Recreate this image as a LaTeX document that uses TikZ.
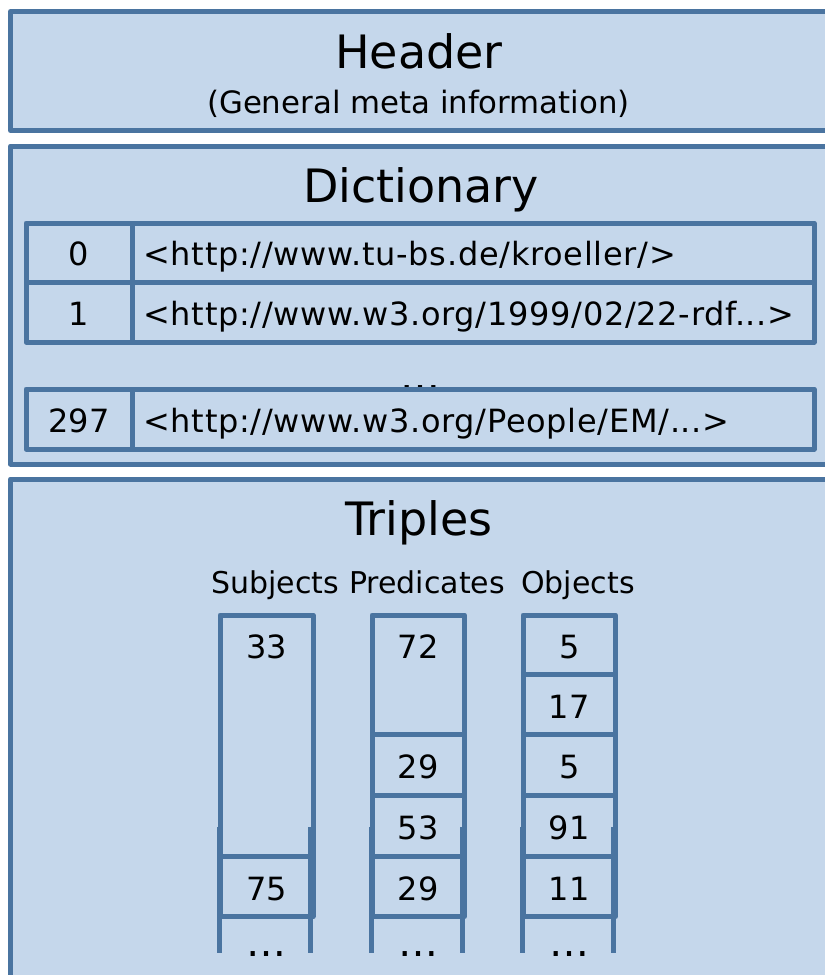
\documentclass[tikz,border=0pt]{standalone}
\usepackage{fontspec}
\setmainfont{DejaVu Sans}
\newfontfamily\urlfont[LetterSpace=2.2]{DejaVu Sans}
\definecolor{panelfill}{RGB}{197,215,235}
\definecolor{panelline}{RGB}{74,116,160}
\begin{document}
\begin{tikzpicture}[x=0.5pt,y=-0.5pt,
  panel/.style={draw=panelline, fill=panelfill, line width=2.5pt, line join=round},
  gridline/.style={draw=panelline, line width=2.5pt, line join=round},
  title/.style={font=\fontsize{23}{27}\selectfont, anchor=base, inner sep=0pt},
  subtitle/.style={font=\fontsize{15.4}{18}\selectfont, anchor=base, inner sep=0pt},
  colhead/.style={font=\fontsize{15}{18}\selectfont, anchor=base, inner sep=0pt},
  cell/.style={font=\fontsize{16}{19}\selectfont, anchor=base, inner sep=0pt},
  uri/.style={font=\urlfont\fontsize{16}{19}\selectfont, anchor=base west, inner sep=0pt},
  more/.style={font=\fontsize{20}{24}\selectfont, anchor=base, inner sep=0pt}]
\useasboundingbox (0,0) rectangle (825,975);
\clip (0,0) rectangle (825,975);
\fill[white] (0,0) rectangle (825,975);

% ---------- Header ----------
\draw[panel] (10.5,11.5) rectangle (845,130.5);
\node[title] (header) at (419,68) {Header};
\node[subtitle] (meta) at (418.5,113) {(General meta information)};

% ---------- Dictionary ----------
\draw[panel] (10.5,146) rectangle (845,464);
\node[title] (dictionary) at (421,202.3) {Dictionary};
\node[more] (dictmore) at (420,390) {…};
% table of entries
\draw[panel] (26,223) rectangle (814,342);
\draw[gridline] (26,282) -- (814,282);
\draw[gridline] (132,223) -- (132,342);
\draw[panel] (26,389) rectangle (814,449);
\draw[gridline] (132,389) -- (132,449);
\node[cell] (id0) at (79,265.5) {0};
\node[cell] (id1) at (79,325) {1};
\node[cell] (id297) at (79,432) {297};
\node[uri] (uri0) at (143,265.5) {<http://www.tu-bs.de/kroeller/>};
\node[uri] (uri1) at (143,325) {<http://www.w3.org/1999/02/22-rdf...>};
\node[uri] (uri297) at (143,432) {<http://www.w3.org/People/EM/...>};

% ---------- Triples ----------
\draw[panel] (10.5,479) rectangle (845,1010);
\node[title] (triples) at (419,535.4) {Triples};
\node[colhead] (subjects) at (275,593) {Subjects};
\node[colhead] (predicates) at (427,593) {Predicates};
\node[colhead] (objects) at (578,593) {Objects};

% Subjects column
\draw[gridline] (219,827) -- (219,953);
\draw[gridline] (310.5,827) -- (310.5,953);
\draw[gridline] (220,615) rectangle (313,916.5);
\draw[gridline] (220,856.5) -- (313,856.5);
% Predicates column
\draw[gridline] (371,827) -- (371,953);
\draw[gridline] (462,827) -- (462,953);
\draw[gridline] (372,615) rectangle (464.5,916.5);
\foreach \y in {734.5,795.5,856.5} \draw[gridline] (372,\y) -- (464.5,\y);
% Objects column
\draw[gridline] (522,827) -- (522,953);
\draw[gridline] (613,827) -- (613,953);
\draw[gridline] (523,615) rectangle (615.5,916.5);
\foreach \y in {674.5,734.5,795.5,856.5} \draw[gridline] (523,\y) -- (615.5,\y);

% cell values
\node[cell] (s1) at (266.5,658.3) {33};
\node[cell] (s2) at (266.5,900) {75};
\node[cell] (p1) at (418.3,658.3) {72};
\node[cell] (p2) at (418.3,778.5) {29};
\node[cell] (p3) at (418.3,839.5) {53};
\node[cell] (p4) at (418.3,900) {29};
\node[cell] (o1) at (569.3,658.3) {5};
\node[cell] (o2) at (569.3,718) {17};
\node[cell] (o3) at (569.3,778.5) {5};
\node[cell] (o4) at (569.3,839.5) {91};
\node[cell] (o5) at (569.3,900) {11};
\node[more] (smore) at (266.5,956) {…};
\node[more] (pmore) at (418.3,956) {…};
\node[more] (omore) at (569.3,956) {…};
\end{tikzpicture}
\end{document}
